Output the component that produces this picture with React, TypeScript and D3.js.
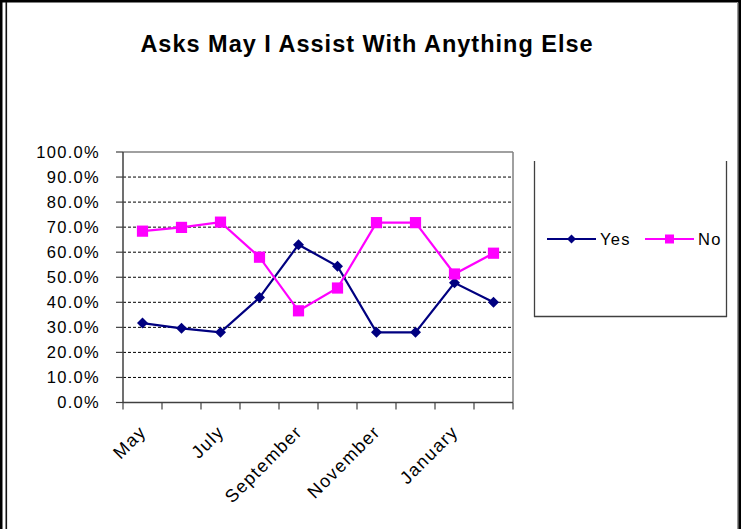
import React from "react";
import * as d3 from "d3";

// Monthly share of calls where the agent asked "May I assist with anything else?"
const months = [
  "May", "June", "July", "August", "September",
  "October", "November", "December", "January", "February",
];
const yesValues = [31.7, 29.6, 28.0, 41.9, 63.0, 54.4, 28.0, 28.0, 47.8, 40.0];
const noValues = [68.4, 69.9, 72.0, 58.0, 36.6, 45.7, 71.8, 71.8, 51.3, 59.6];
const monthLabels = ["May", "July", "September", "November", "January"];
const yTicks = [0, 10, 20, 30, 40, 50, 60, 70, 80, 90, 100];
const seriesNames = ["Yes", "No"];

const W = 741;
const H = 529;
const FONT = "'Liberation Sans', Arial, sans-serif";
const YES_COLOR = "#000080";
const NO_COLOR = "#FF00FF";
const AXIS_COLOR = "#404040";

const plot = { left: 123, right: 513, top: 152, bottom: 402.5 };

const diamond = (r: number) => `M0,${-r}L${r},0L0,${r}L${-r},0Z`;
const square = (r: number) => `M${-r},${-r}H${r}V${r}H${-r}Z`;

export default function App() {
  const x = d3.scaleBand<string>().domain(months).range([plot.left, plot.right]).padding(0);
  const y = d3.scaleLinear().domain([0, 100]).range([plot.bottom, plot.top]);
  const cx = (m: string) => (x(m) ?? 0) + x.bandwidth() / 2;

  const line = d3
    .line<number>()
    .x((_, i) => cx(months[i]))
    .y((v) => y(v));

  const tickEdges = months.map((m) => x(m) ?? 0).concat([plot.right]);

  return (
    <svg
      width={W}
      height={H}
      style={{ position: "absolute", left: 0, top: 0, background: "#fff" }}
      fontFamily={FONT}
    >
      <rect x={0} y={0} width={W} height={H} fill="#fff" />
      {/* outer frame */}
      <rect x={0} y={0} width={W} height={2.5} fill="#000" />
      <rect x={0} y={0} width={2.5} height={H} fill="#000" />
      <rect x={5.5} y={2} width={1.6} height={H} fill="#111" />
      <rect x={737} y={2} width={1} height={H} fill="#999" />
      <rect x={738.3} y={0} width={2.7} height={H} fill="#000" />

      {/* title */}
      <text
        x={367}
        y={51.5}
        textAnchor="middle"
        fontSize={23.5}
        fontWeight="bold"
        letterSpacing={1}
        fill="#000"
      >
        Asks May I Assist With Anything Else
      </text>

      {/* plot frame (top / right) */}
      <line x1={plot.left} x2={plot.right} y1={plot.top} y2={plot.top} stroke="#808080" strokeWidth={1.5} />
      <line x1={plot.right} x2={plot.right} y1={plot.top} y2={plot.bottom} stroke="#808080" strokeWidth={1.5} />

      {/* gridlines */}
      {yTicks
        .filter((t) => t > 0 && t < 100)
        .map((t) => (
          <line
            key={`g${t}`}
            x1={plot.left}
            x2={plot.right}
            y1={y(t)}
            y2={y(t)}
            stroke="#000"
            strokeWidth={1}
            strokeDasharray="3,2"
          />
        ))}

      {/* y axis */}
      <line x1={plot.left} x2={plot.left} y1={plot.top} y2={plot.bottom} stroke={AXIS_COLOR} strokeWidth={1.5} />
      {yTicks.map((t) => (
        <g key={`y${t}`}>
          <line x1={plot.left - 7} x2={plot.left} y1={y(t)} y2={y(t)} stroke={AXIS_COLOR} strokeWidth={1.2} />
          <text
            x={100}
            y={y(t)}
            dy="0.36em"
            textAnchor="end"
            fontSize={16.5}
            letterSpacing={1.3}
            fill="#000"
          >
            {`${t.toFixed(1)}%`}
          </text>
        </g>
      ))}

      {/* x axis */}
      <line x1={plot.left} x2={plot.right} y1={plot.bottom} y2={plot.bottom} stroke={AXIS_COLOR} strokeWidth={1.5} />
      {tickEdges.map((e, i) => (
        <line key={`xt${i}`} x1={e} x2={e} y1={plot.bottom} y2={plot.bottom + 7} stroke={AXIS_COLOR} strokeWidth={1.2} />
      ))}
      {monthLabels.map((m) => {
        const ax = cx(m) + 3;
        const ay = 431;
        return (
          <text
            key={`xl${m}`}
            transform={`translate(${ax},${ay}) rotate(-45)`}
            textAnchor="end"
            dy="0.15em"
            fontSize={18}
            letterSpacing={1.4}
            fill="#000"
          >
            {m}
          </text>
        );
      })}

      {/* series */}
      <path d={line(yesValues) ?? ""} fill="none" stroke={YES_COLOR} strokeWidth={2.2} />
      <path d={line(noValues) ?? ""} fill="none" stroke={NO_COLOR} strokeWidth={2.2} />
      {yesValues.map((v, i) => (
        <path key={`ym${i}`} d={diamond(5.5)} transform={`translate(${cx(months[i])},${y(v)})`} fill={YES_COLOR} />
      ))}
      {noValues.map((v, i) => (
        <path key={`nm${i}`} d={square(5.6)} transform={`translate(${cx(months[i])},${y(v)})`} fill={NO_COLOR} />
      ))}

      {/* legend */}
      <g>
        <line x1={534.5} x2={534.5} y1={161} y2={317} stroke={AXIS_COLOR} strokeWidth={1.3} />
        <line x1={726.5} x2={726.5} y1={161} y2={317} stroke={AXIS_COLOR} strokeWidth={1.3} />
        <line x1={534} x2={727} y1={316.5} y2={316.5} stroke={AXIS_COLOR} strokeWidth={1.3} />
        {seriesNames.map((name, i) => {
          const x0 = 547 + i * 98;
          const color = i === 0 ? YES_COLOR : NO_COLOR;
          return (
            <g key={name}>
              <line x1={x0} x2={x0 + 49} y1={239} y2={239} stroke={color} strokeWidth={2} />
              <path
                d={i === 0 ? diamond(4.5) : square(4.5)}
                transform={`translate(${x0 + 24.5},239)`}
                fill={color}
              />
              <text x={x0 + 53} y={239} dy="0.36em" fontSize={16.5} letterSpacing={1.3} fill="#000">
                {name}
              </text>
            </g>
          );
        })}
      </g>
    </svg>
  );
}
